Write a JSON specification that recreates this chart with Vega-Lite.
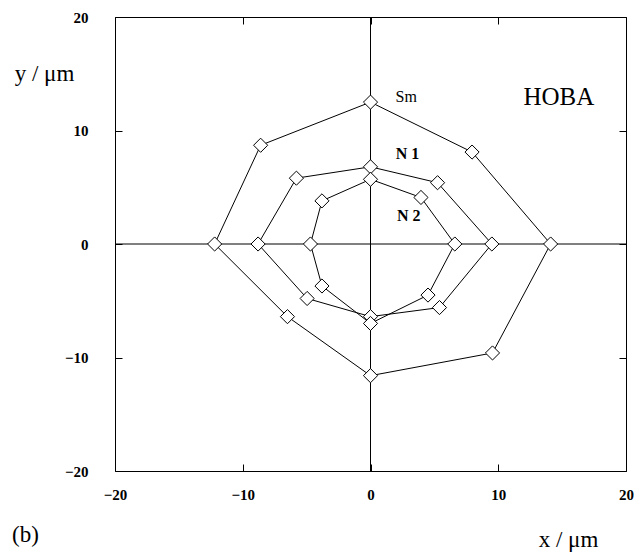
{
  "$schema": "https://vega.github.io/schema/vega-lite/v6.json",
  "width": 511,
  "height": 454,
  "autosize": {"type": "none"},
  "padding": {"left": 115, "top": 17, "right": 8, "bottom": 83},
  "background": "white",
  "config": {
    "view": {"stroke": "black", "strokeWidth": 1},
    "axis": {
      "grid": false,
      "domain": false,
      "tickSize": -7,
      "tickColor": "black",
      "labelFlush": false,
      "labelOverlap": false,
      "labelFont": "Liberation Serif",
      "labelFontWeight": "bold",
      "labelFontSize": 15,
      "labelColor": "black",
      "titleFont": "Liberation Serif",
      "titleFontWeight": "normal",
      "titleFontSize": 23,
      "titleColor": "black"
    }
  },
  "datasets": {
    "pts": [
      {"series": "Sm", "order": 1, "x": 0, "y": 12.5},
      {"series": "Sm", "order": 2, "x": 7.95, "y": 8.1},
      {"series": "Sm", "order": 3, "x": 14.1, "y": 0},
      {"series": "Sm", "order": 4, "x": 9.55, "y": -9.6},
      {"series": "Sm", "order": 5, "x": 0, "y": -11.6},
      {"series": "Sm", "order": 6, "x": -6.5, "y": -6.4},
      {"series": "Sm", "order": 7, "x": -12.2, "y": 0},
      {"series": "Sm", "order": 8, "x": -8.6, "y": 8.7},
      {"series": "Sm", "order": 9, "x": 0, "y": 12.5},
      {"series": "N1", "order": 1, "x": 0, "y": 6.8},
      {"series": "N1", "order": 2, "x": 5.25, "y": 5.4},
      {"series": "N1", "order": 3, "x": 9.5, "y": 0},
      {"series": "N1", "order": 4, "x": 5.4, "y": -5.6},
      {"series": "N1", "order": 5, "x": 0, "y": -6.4},
      {"series": "N1", "order": 6, "x": -4.96, "y": -4.8},
      {"series": "N1", "order": 7, "x": -8.8, "y": 0},
      {"series": "N1", "order": 8, "x": -5.8, "y": 5.8},
      {"series": "N1", "order": 9, "x": 0, "y": 6.8},
      {"series": "N2", "order": 1, "x": 0, "y": 5.7},
      {"series": "N2", "order": 2, "x": 3.95, "y": 4.1},
      {"series": "N2", "order": 3, "x": 6.6, "y": 0},
      {"series": "N2", "order": 4, "x": 4.5, "y": -4.5},
      {"series": "N2", "order": 5, "x": 0, "y": -7.0},
      {"series": "N2", "order": 6, "x": -3.8, "y": -3.7},
      {"series": "N2", "order": 7, "x": -4.7, "y": 0},
      {"series": "N2", "order": 8, "x": -3.8, "y": 3.8},
      {"series": "N2", "order": 9, "x": 0, "y": 5.7}
    ],
    "labels": [
      {"x": 2.8, "y": 12.95, "text": "Sm", "group": "sm"},
      {"x": 2.9, "y": 7.95, "text": "N 1", "group": "n"},
      {"x": 3.0, "y": 2.5, "text": "N 2", "group": "n"},
      {"x": 14.75, "y": 12.95, "text": "HOBA", "group": "hoba"}
    ]
  },
  "resolve": {"axis": {"x": "independent", "y": "independent"}},
  "layer": [
    {
      "data": {"values": [{}]},
      "mark": {"type": "rule", "color": "black", "strokeWidth": 1},
      "encoding": {
        "x": {"datum": 0, "type": "quantitative", "scale": {"domain": [-20, 20]},
          "axis": {"orient": "top", "values": [-20, -10, 0, 10, 20], "labels": false, "title": null}}
      }
    },
    {
      "data": {"values": [{}]},
      "mark": {"type": "rule", "color": "black", "strokeWidth": 1},
      "encoding": {
        "y": {"datum": 0, "type": "quantitative", "scale": {"domain": [-20, 20]},
          "axis": {"orient": "right", "values": [-20, -10, 0, 10, 20], "labels": false, "title": null}}
      }
    },
    {
      "data": {"name": "pts"},
      "mark": {"type": "line", "color": "black", "strokeWidth": 1},
      "encoding": {
        "x": {"field": "x", "type": "quantitative", "scale": {"domain": [-20, 20]},
          "axis": {"orient": "bottom", "values": [-20, -10, 0, 10, 20], "labelPadding": 23,
            "title": "x / μm", "titleX": 453, "titleY": 68, "titleAlign": "center", "titleBaseline": "middle"}},
        "y": {"field": "y", "type": "quantitative", "scale": {"domain": [-20, 20]},
          "axis": {"orient": "left", "values": [-20, -10, 0, 10, 20], "labelPadding": 34,
            "title": "y / μm", "titleAngle": 0, "titleX": -71, "titleY": 56, "titleAlign": "center", "titleBaseline": "middle"}},
        "detail": {"field": "series"},
        "order": {"field": "order"}
      }
    },
    {
      "data": {"name": "pts"},
      "transform": [{"filter": "datum.order < 9"}],
      "mark": {"type": "point", "shape": "diamond", "filled": true, "fill": "white", "stroke": "black", "strokeWidth": 1, "size": 200, "opacity": 1},
      "encoding": {
        "x": {"field": "x", "type": "quantitative", "axis": null},
        "y": {"field": "y", "type": "quantitative", "axis": null}
      }
    },
    {
      "data": {"name": "labels"},
      "transform": [{"filter": "datum.group === 'sm'"}],
      "mark": {"type": "text", "font": "Liberation Serif", "fontSize": 16, "color": "black", "align": "center", "baseline": "middle"},
      "encoding": {
        "x": {"field": "x", "type": "quantitative", "axis": null},
        "y": {"field": "y", "type": "quantitative", "axis": null},
        "text": {"field": "text"}
      }
    },
    {
      "data": {"name": "labels"},
      "transform": [{"filter": "datum.group === 'n'"}],
      "mark": {"type": "text", "font": "Liberation Serif", "fontSize": 16, "fontWeight": "bold", "color": "black", "align": "center", "baseline": "middle"},
      "encoding": {
        "x": {"field": "x", "type": "quantitative", "axis": null},
        "y": {"field": "y", "type": "quantitative", "axis": null},
        "text": {"field": "text"}
      }
    },
    {
      "data": {"name": "labels"},
      "transform": [{"filter": "datum.group === 'hoba'"}],
      "mark": {"type": "text", "font": "Liberation Serif", "fontSize": 25, "color": "black", "align": "center", "baseline": "middle"},
      "encoding": {
        "x": {"field": "x", "type": "quantitative", "axis": null},
        "y": {"field": "y", "type": "quantitative", "axis": null},
        "text": {"field": "text"}
      }
    },
    {
      "data": {"values": [{"x": -20, "y": -20, "text": "(b)"}]},
      "mark": {"type": "text", "font": "Liberation Serif", "fontSize": 23, "color": "black", "align": "left", "baseline": "middle", "dx": -103, "dy": 64},
      "encoding": {
        "x": {"field": "x", "type": "quantitative", "axis": null},
        "y": {"field": "y", "type": "quantitative", "axis": null},
        "text": {"field": "text"}
      }
    }
  ]
}
